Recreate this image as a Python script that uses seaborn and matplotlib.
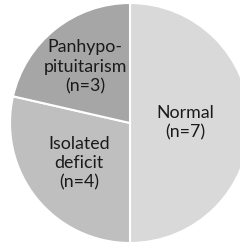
import numpy as np
import matplotlib
matplotlib.use("Agg")
import matplotlib.pyplot as plt
import seaborn as sns

categories = ["Normal", "Isolated\ndeficit", "Panhypo-\npituitarism"]
counts = [7, 4, 3]
colors = ["#d9d9d9", "#bfbfbf", "#a6a6a6"]
label_dist = [0.46, 0.54, 0.6]

sns.set_style("white")
plt.rcParams["font.family"] = ["Lato", "DejaVu Sans"]

fig = plt.figure(figsize=(2.40, 2.46), dpi=100)
# pie center at ~(130, 123) px, radius ~120 px; right edge clipped by figure
ax = fig.add_axes([10 / 240, (246 - 123 - 120) / 246, 240 / 240, 240 / 246])

wedges, _ = ax.pie(
    counts,
    colors=colors,
    startangle=90,
    counterclock=False,
    radius=1,
    wedgeprops=dict(edgecolor="white", linewidth=1.5),
)
ax.set_xlim(-1, 1)
ax.set_ylim(-1, 1)
ax.set_aspect("auto")
ax.axis("off")

for w, cat, n, d in zip(wedges, categories, counts, label_dist):
    mid = np.deg2rad((w.theta1 + w.theta2) / 2)
    ax.text(d * np.cos(mid), d * np.sin(mid), f"{cat}\n(n={n})",
            ha="center", va="center", fontsize=12.8, color="#1a1a1a",
            linespacing=1.25)

fig.savefig("out.png", dpi=100)
